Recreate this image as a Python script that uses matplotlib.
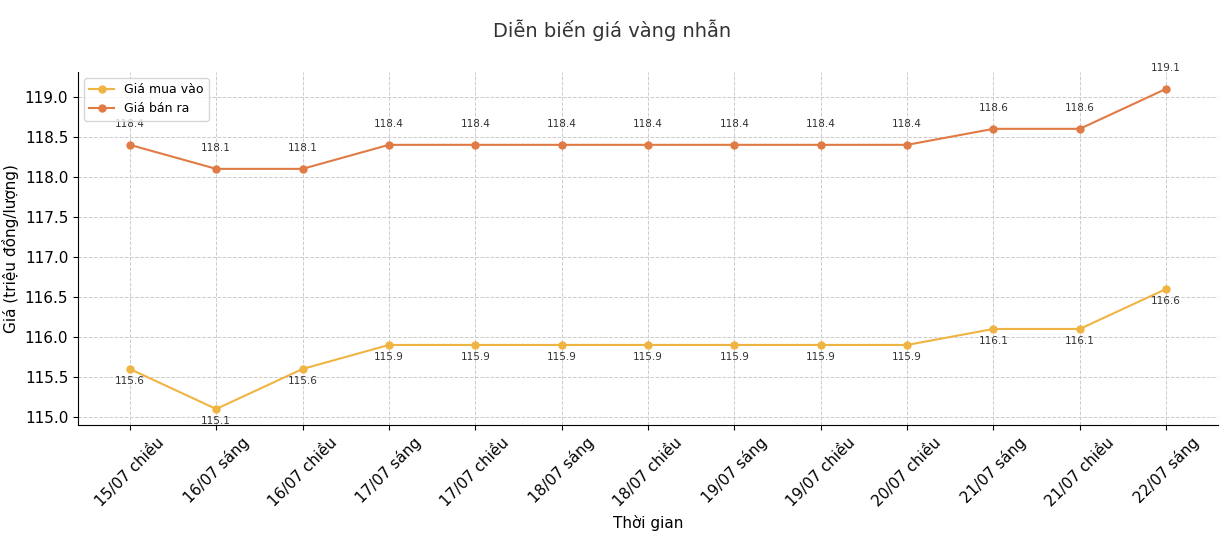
import matplotlib
matplotlib.use("Agg")
import matplotlib.pyplot as plt

labels = ["15/07 chiều","16/07 sáng","16/07 chiều","17/07 sáng","17/07 chiều","18/07 sáng",
          "18/07 chiều","19/07 sáng","19/07 chiều","20/07 chiều","21/07 sáng","21/07 chiều","22/07 sáng"]
buy = [115.6,115.1,115.6,115.9,115.9,115.9,115.9,115.9,115.9,115.9,116.1,116.1,116.6]
sell = [118.4,118.1,118.1,118.4,118.4,118.4,118.4,118.4,118.4,118.4,118.6,118.6,119.1]

fig = plt.figure(figsize=(12.24,5.6), dpi=100)
ax = fig.add_axes([78/1224, 1-425/560, (1218-78)/1224, (425-72)/560])
x = list(range(len(labels)))
cb, cs = "#f0b443", "#e07b45"
ax.plot(x, buy, marker="o", ms=5, color=cb, lw=1.5, label="Giá mua vào")
ax.plot(x, sell, marker="o", ms=5, color=cs, lw=1.5, label="Giá bán ra")
for i in x:
    ax.annotate(f"{buy[i]:.1f}", (i, buy[i]), xytext=(0,-11), textcoords="offset points", ha="center", fontsize=7.5, color="#333333")
    ax.annotate(f"{sell[i]:.1f}", (i, sell[i]), xytext=(0,13), textcoords="offset points", ha="center", fontsize=7.5, color="#333333")
ax.set_xlim(-0.6, 12.6)
ax.set_ylim(114.9, 119.31)
ax.set_yticks([115.0,115.5,116.0,116.5,117.0,117.5,118.0,118.5,119.0])
ax.set_xticks(x)
ax.set_xticklabels(labels, rotation=45, fontsize=11)
ax.tick_params(axis="y", labelsize=11)
ax.grid(True, ls="--", color="#cccccc", lw=0.7)
for s in ["top","right"]:
    ax.spines[s].set_visible(False)
ax.set_xlabel("Thời gian", fontsize=11)
ax.set_ylabel("Giá (triệu đồng/lượng)", fontsize=11)
ax.legend(loc="upper left", fontsize=9)
fig.suptitle("Diễn biến giá vàng nhẫn", fontsize=14, y=0.965, color="#333333")
fig.savefig("out.png", dpi=100)
